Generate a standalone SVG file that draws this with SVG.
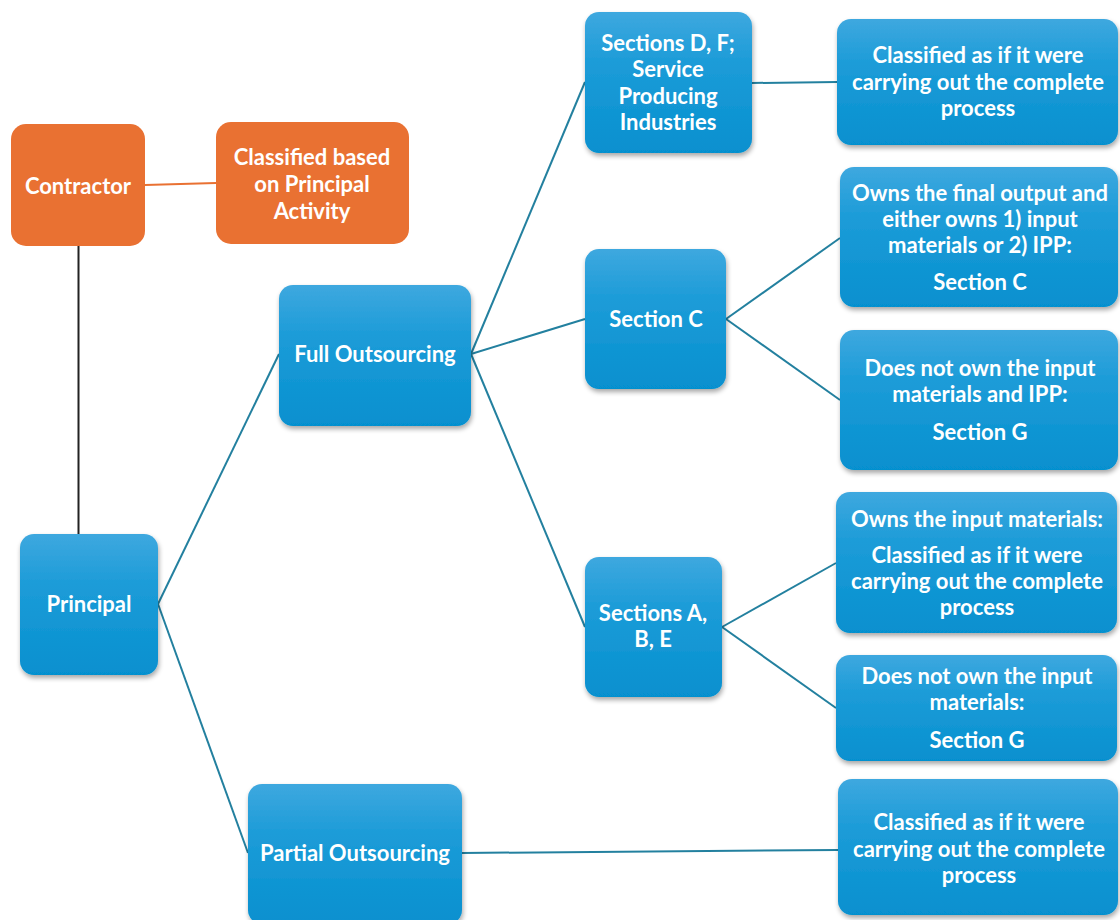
<svg xmlns="http://www.w3.org/2000/svg" width="1120" height="920" viewBox="0 0 1120 920">
<defs>
<linearGradient id="blue" x1="0" y1="0" x2="0" y2="1">
<stop offset="0" stop-color="#3ea8df"/>
<stop offset="0.35" stop-color="#1d9cd8"/>
<stop offset="1" stop-color="#0690cf"/>
</linearGradient>
<filter id="sh" x="-10%" y="-10%" width="125%" height="130%">
<feGaussianBlur in="SourceAlpha" stdDeviation="2.5"/>
<feOffset dx="1" dy="3" result="b"/>
<feComponentTransfer><feFuncA type="linear" slope="0.35"/></feComponentTransfer>
<feMerge><feMergeNode/><feMergeNode in="SourceGraphic"/></feMerge>
</filter>
</defs>
<style>
.b{fill:url(#blue);filter:url(#sh)}
.o{fill:#e97132}
.t{font-family:Lato,"Open Sans","Liberation Sans",sans-serif;font-weight:bold;font-size:22px;fill:#ffffff;text-anchor:middle;dominant-baseline:central}
.c{stroke:#23809f;stroke-width:2;fill:none}
</style>
<rect width="1120" height="920" fill="#ffffff"/>
<g id="connectors">
<line x1="145" y1="185" x2="216" y2="183" stroke="#e97132" stroke-width="2"/>
<line x1="78.5" y1="246" x2="78.5" y2="534" stroke="#222222" stroke-width="2"/>
<line class="c" x1="158" y1="604" x2="279" y2="354"/>
<line class="c" x1="158" y1="604" x2="248" y2="853"/>
<line class="c" x1="471" y1="354" x2="585" y2="82"/>
<line class="c" x1="471" y1="354" x2="585" y2="319"/>
<line class="c" x1="471" y1="354" x2="585" y2="627"/>
<line class="c" x1="752" y1="83" x2="837" y2="82"/>
<line class="c" x1="726" y1="319" x2="840" y2="238"/>
<line class="c" x1="726" y1="319" x2="840" y2="400"/>
<line class="c" x1="722" y1="627" x2="836" y2="563"/>
<line class="c" x1="722" y1="627" x2="836" y2="708"/>
<line class="c" x1="462" y1="853" x2="838" y2="850"/>
</g>
<g id="contractor">
<rect class="o" x="11" y="124" width="134" height="122" rx="15"/>
<text class="t" x="78" y="185">Contractor</text>
</g>
<g id="classified-principal">
<rect class="o" x="216" y="122" width="193" height="122" rx="15"/>
<text class="t" x="312" y="156">Classified based</text>
<text class="t" x="312" y="183">on Principal</text>
<text class="t" x="312" y="210">Activity</text>
</g>
<g id="principal">
<rect class="b" x="20" y="534" width="138" height="141" rx="14"/>
<text class="t" x="89" y="603">Principal</text>
</g>
<g id="full-outsourcing">
<rect class="b" x="279" y="285" width="192" height="141" rx="14"/>
<text class="t" x="375" y="353">Full Outsourcing</text>
</g>
<g id="partial-outsourcing">
<rect class="b" x="248" y="784" width="214" height="140" rx="14"/>
<text class="t" x="355" y="852">Partial Outsourcing</text>
</g>
<g id="sections-df">
<rect class="b" x="585" y="12" width="167" height="141" rx="14"/>
<text class="t" x="668" y="42">Sections D, F;</text>
<text class="t" x="668" y="68">Service</text>
<text class="t" x="668" y="95">Producing</text>
<text class="t" x="668" y="121">Industries</text>
</g>
<g id="section-c">
<rect class="b" x="585" y="249" width="141" height="140" rx="14"/>
<text class="t" x="656" y="318">Section C</text>
</g>
<g id="sections-abe">
<rect class="b" x="585" y="557" width="137" height="140" rx="14"/>
<text class="t" x="653" y="612">Sections A,</text>
<text class="t" x="653" y="638">B, E</text>
</g>
<g id="classified-df">
<rect class="b" x="837" y="19" width="281" height="126" rx="14"/>
<text class="t" x="978" y="54">Classified as if it were</text>
<text class="t" x="978" y="81">carrying out the complete</text>
<text class="t" x="978" y="107">process</text>
</g>
<g id="owns-final-output">
<rect class="b" x="840" y="167" width="278" height="140" rx="14"/>
<text class="t" x="980" y="192">Owns the final output and</text>
<text class="t" x="980" y="218">either owns 1) input</text>
<text class="t" x="980" y="244">materials or 2) IPP:</text>
<text class="t" x="980" y="281">Section C</text>
</g>
<g id="not-own-ipp">
<rect class="b" x="840" y="330" width="278" height="140" rx="14"/>
<text class="t" x="980" y="367">Does not own the input</text>
<text class="t" x="980" y="393">materials and IPP:</text>
<text class="t" x="980" y="431">Section G</text>
</g>
<g id="owns-input">
<rect class="b" x="836" y="492" width="281" height="141" rx="14"/>
<text class="t" x="977" y="518">Owns the input materials:</text>
<text class="t" x="977" y="554">Classified as if it were</text>
<text class="t" x="977" y="580">carrying out the complete</text>
<text class="t" x="977" y="606">process</text>
</g>
<g id="not-own-input">
<rect class="b" x="836" y="655" width="281" height="106" rx="14"/>
<text class="t" x="977" y="675">Does not own the input</text>
<text class="t" x="977" y="701">materials:</text>
<text class="t" x="977" y="739">Section G</text>
</g>
<g id="classified-partial">
<rect class="b" x="838" y="779" width="280" height="136" rx="14"/>
<text class="t" x="979" y="821">Classified as if it were</text>
<text class="t" x="979" y="848">carrying out the complete</text>
<text class="t" x="979" y="874">process</text>
</g>
</svg>
